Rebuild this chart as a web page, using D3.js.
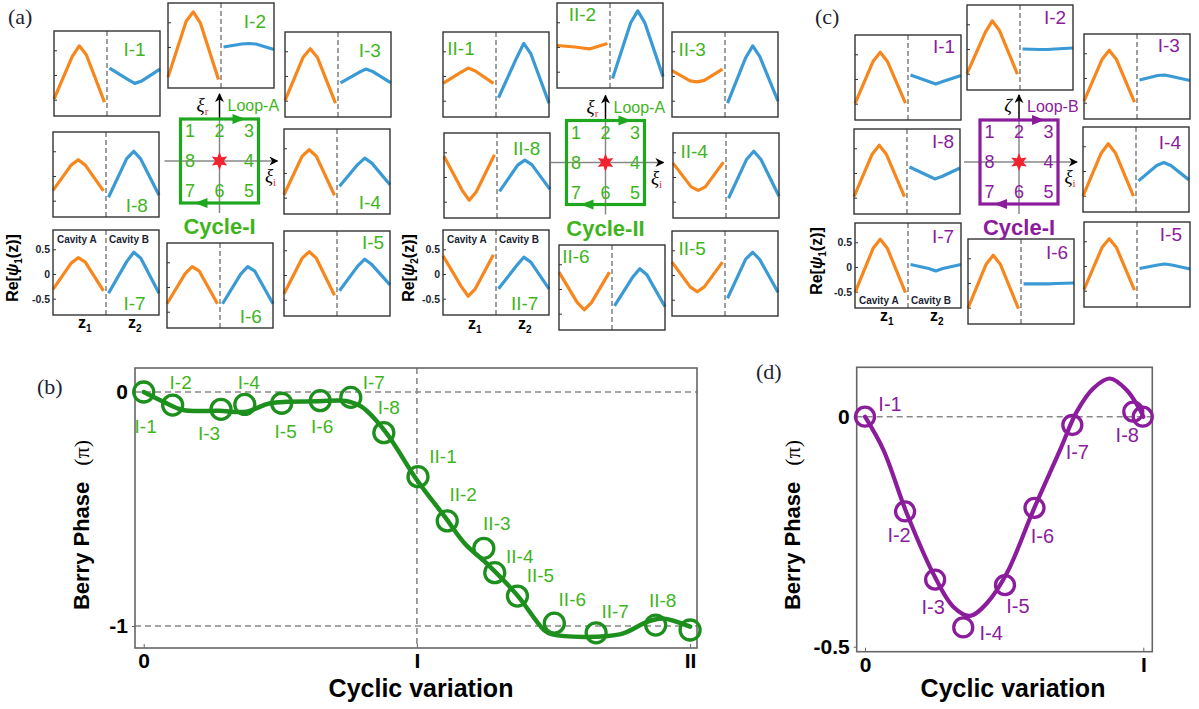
<!DOCTYPE html>
<html>
<head>
<meta charset="utf-8">
<script src="https://cdn.jsdelivr.net/npm/d3@7"></script>
<style>
body { margin: 0; background: #fff; }
svg { display: block; font-family: "Liberation Sans", Arial, sans-serif; }
</style>
</head>
<body>
<div id="fig"></div>
<script>
// ---------------- data ----------------
// sample positions along each cavity (z normalised 0..1)
var zNodes = [0, 0.36, 0.5, 0.64, 1];
var boxTicks = [-0.5, 0, 0.5];
var pointNames = [1, 2, 3, 4, 5, 6, 7, 8];

// Cycle-I, Loop-A : Re[psi1] in cavity A (orange) / cavity B (blue), points 1..8
var cycI_A = [
  [-0.49, 0.37, 0.59, 0.41, -0.55],
  [-0.61, 0.52, 0.71, 0.49, -0.66],
  [-0.50, 0.38, 0.55, 0.38, -0.55],
  [-0.44, 0.34, 0.47, 0.34, -0.45],
  [-0.38, 0.34, 0.47, 0.34, -0.41],
  [-0.34, 0.27, 0.41, 0.32, -0.34],
  [-0.31, 0.22, 0.33, 0.24, -0.34],
  [-0.29, 0.22, 0.33, 0.22, -0.30]
];
var cycI_B = [
  [0.14, -0.09, -0.17, -0.12, 0.12],
  [0.00, 0.06, 0.07, 0.06, -0.05],
  [-0.14, 0.07, 0.14, 0.09, -0.14],
  [-0.27, 0.17, 0.30, 0.20, -0.24],
  [-0.32, 0.18, 0.32, 0.21, -0.20],
  [-0.34, 0.26, 0.41, 0.32, -0.34],
  [-0.39, 0.25, 0.44, 0.32, -0.39],
  [-0.43, 0.35, 0.50, 0.34, -0.39]
];
// Cycle-II, Loop-A : Re[psi2]
var cycII_A = [
  [-0.15, 0.08, 0.16, 0.10, -0.15],
  [0.03, 0.00, -0.02, -0.04, 0.07],
  [0.11, -0.10, -0.12, -0.09, 0.14],
  [0.28, -0.20, -0.27, -0.20, 0.30],
  [0.26, -0.24, -0.34, -0.24, 0.26],
  [0.34, -0.27, -0.42, -0.28, 0.34],
  [0.37, -0.25, -0.45, -0.30, 0.39],
  [0.42, -0.27, -0.47, -0.30, 0.45]
];
var cycII_B = [
  [-0.44, 0.37, 0.66, 0.45, -0.55],
  [-0.64, 0.49, 0.73, 0.49, -0.60],
  [-0.55, 0.37, 0.61, 0.39, -0.51],
  [-0.43, 0.36, 0.52, 0.36, -0.39],
  [-0.47, 0.32, 0.46, 0.31, -0.35],
  [-0.34, 0.24, 0.41, 0.29, -0.36],
  [-0.30, 0.17, 0.34, 0.24, -0.30],
  [-0.29, 0.24, 0.34, 0.25, -0.25]
];
// Cycle-I, Loop-B : Re[psi1]
var loopB_A = [
  [-0.50, 0.36, 0.54, 0.36, -0.49],
  [-0.50, 0.33, 0.57, 0.38, -0.51],
  [-0.47, 0.38, 0.56, 0.38, -0.49],
  [-0.51, 0.36, 0.55, 0.37, -0.51],
  [-0.48, 0.38, 0.55, 0.38, -0.49],
  [-0.51, 0.38, 0.56, 0.38, -0.52],
  [-0.52, 0.38, 0.56, 0.38, -0.52],
  [-0.48, 0.38, 0.56, 0.38, -0.48]
];
var loopB_B = [
  [0.08, -0.05, -0.10, -0.05, 0.07],
  [0.00, -0.01, -0.01, 0.00, 0.02],
  [-0.04, 0.05, 0.06, 0.03, -0.05],
  [-0.20, 0.11, 0.17, 0.11, -0.18],
  [-0.05, 0.02, 0.04, 0.02, -0.06],
  [-0.02, -0.02, -0.02, -0.01, 0.00],
  [0.05, -0.03, -0.08, -0.03, 0.05],
  [0.12, -0.05, -0.12, -0.07, 0.10]
];

// (b) Berry phase along Cycle-I then Cycle-II (Loop-A)
var namesB = ["I-1","I-2","I-3","I-4","I-5","I-6","I-7","I-8",
              "II-1","II-2","II-3","II-4","II-5","II-6","II-7","II-8",""];
var phaseXB = [0, 0.106, 0.283, 0.370, 0.505, 0.646, 0.758, 0.879,
               1.004, 1.111, 1.245, 1.285, 1.368, 1.503, 1.656, 1.874, 2.0];
var phaseYB = [0, -0.056, -0.074, -0.053, -0.048, -0.037, -0.023, -0.174,
               -0.362, -0.551, -0.668, -0.772, -0.872, -0.988, -1.029, -0.996, -1.017];
var fitXB = [0, 0.071, 0.144, 0.275, 0.376, 0.463, 0.639, 0.739, 0.797, 0.885, 1.0,
             1.102, 1.175, 1.262, 1.367, 1.465, 1.495, 1.742, 1.843, 1.9, 2.0];
var fitYB = [0, -0.041, -0.077, -0.08, -0.084, -0.048, -0.04, -0.038, -0.063, -0.17, -0.376,
             -0.533, -0.647, -0.74, -0.868, -1.017, -1.036, -1.036, -0.982, -0.968, -1.003];
var ticksXB = ["0", "I", "II"];

// (d) Berry phase along Cycle-I (Loop-B)
var namesD = ["I-1","I-2","I-3","I-4","I-5","I-6","I-7","I-8",""];
var phaseXD = [0, 0.144, 0.252, 0.353, 0.503, 0.609, 0.745, 0.964, 0.998];
var phaseYD = [0, -0.206, -0.354, -0.458, -0.366, -0.198, -0.018, 0.011, 0];
var fitXD = [0, 0.066, 0.15, 0.245, 0.317, 0.377, 0.437, 0.509, 0.605, 0.701, 0.761,
             0.821, 0.88, 0.94, 0.988, 1.0];
var fitYD = [0, -0.072, -0.21, -0.341, -0.413, -0.433, -0.406, -0.341, -0.203, -0.072, 0.011,
             0.062, 0.083, 0.058, 0.015, 0];
var ticksXD = ["0", "I"];

// ---------------- layout ----------------
var w = 1199, h = 709;
var orange = "#f7861c", blue = "#3a9ad6", green = "#3fb51d", greenLine = "#1d8f1d",
    greenFrame = "#1fa81f", purple = "#8b1c9c", starRed = "#f2222e", ink = "#1b1f33";

var svg = d3.select("#fig").append("svg").attr("width", w).attr("height", h);

// marker for the small black axis arrows
svg.append("defs").append("marker")
   .attr("id", "blackArrow")
   .attr("viewBox", "0 0 10 10")
   .attr("refX", 9).attr("refY", 5)
   .attr("markerWidth", 9).attr("markerHeight", 9)
   .attr("markerUnits", "userSpaceOnUse")
   .attr("orient", "auto")
   .append("path").attr("d", "M0,0 L10,5 L0,10 L3,5 Z").attr("fill", "#000");

var bw = 106, bh = 85;
var xBox = d3.scaleLinear().domain([0, 2.1]).range([0, bw]);
var yBox = d3.scaleLinear().domain([-0.83, 0.89]).range([bh, 0]);
var wave = d3.line().x(function(d){ return xBox(d[0]); }).y(function(d){ return yBox(d[1]); });

var sets = [
  { A: cycI_A, B: cycI_B, prefix: "I-", color: green, frame: greenFrame,
    boxes: [[54,31],[168,3],[285,32],[284,129],[284,231],[167,243],[53,230],[53,132]],
    lab: [[0.76,0.22],[0.82,0.22],[0.80,0.22],[0.81,0.87],[0.84,0.14],[0.79,0.87],[0.77,0.87],[0.79,0.86]],
    cx: 219.5, cy: 161, loop: "Loop-A", cycle: "Cycle-I", vSym: "ξ", vSub: "r", vDx: -17,
    psiIdx: "1", titleX: 18, cavTop: true, zDy: 13 },
  { A: cycII_A, B: cycII_B, prefix: "II-", color: green, frame: greenFrame,
    boxes: [[443,32],[557,3],[672,32],[673,133],[672,231],[559,245],[443,230],[444,133]],
    lab: [[0.17,0.19],[0.24,0.14],[0.19,0.20],[0.20,0.22],[0.19,0.20],[0.16,0.14],[0.77,0.86],[0.78,0.18]],
    cx: 605.5, cy: 162.5, loop: "Loop-A", cycle: "Cycle-II", vSym: "ξ", vSub: "r", vDx: -13,
    psiIdx: "2", titleX: 414, cavTop: true, zDy: 14 },
  { A: loopB_A, B: loopB_B, prefix: "I-", color: purple, frame: purple,
    boxes: [[855,35],[967,5],[1084,34],[1083,127],[1084,222],[968,239],[855,223],[854,129]],
    lab: [[0.84,0.14],[0.83,0.15],[0.80,0.14],[0.82,0.18],[0.82,0.15],[0.84,0.16],[0.83,0.16],[0.84,0.15]],
    cx: 1019, cy: 162, loop: "Loop-B", cycle: "Cycle-I", vSym: "ζ", vSub: "", vDx: -11,
    psiIdx: "1", titleX: 822, cavTop: false, zDy: 13 }
];

sets.forEach(function(s) {
  pointNames.forEach(function(n, i) {
    var bx = s.boxes[i][0], by = s.boxes[i][1];
    var g = svg.append("g").attr("transform", "translate(" + bx + "," + by + ")");
    var withLabels = (n === 7);

    var ax = g.append("g")
      .call(d3.axisLeft(yBox).tickValues(boxTicks).tickSize(-3).tickPadding(3)
              .tickFormat(function(d){ return withLabels ? String(d) : ""; }));
    ax.select(".domain").remove();
    ax.selectAll("line").attr("stroke", "#333");
    ax.selectAll("text").attr("font-family", "Liberation Sans, Arial, sans-serif")
      .attr("font-size", 10.5).attr("font-weight", "bold").attr("fill", ink);

    g.append("line")
      .attr("x1", xBox(1.05)).attr("x2", xBox(1.05)).attr("y1", 0).attr("y2", bh)
      .attr("stroke", "#777").attr("stroke-width", 1.4).attr("stroke-dasharray", "5,3");

    g.append("path")
      .datum(zNodes.map(function(z, k){ return [z, s.A[i][k]]; }))
      .attr("d", wave).attr("fill", "none").attr("stroke", orange)
      .attr("stroke-width", 3.2).attr("stroke-linejoin", "round");
    g.append("path")
      .datum(zNodes.map(function(z, k){ return [z + 1.1, s.B[i][k]]; }))
      .attr("d", wave).attr("fill", "none").attr("stroke", blue)
      .attr("stroke-width", 3.2).attr("stroke-linejoin", "round");

    g.append("rect").attr("width", bw).attr("height", bh)
      .attr("fill", "none").attr("stroke", "#333").attr("stroke-width", 1.4);

    g.append("text")
      .attr("x", s.lab[i][0] * bw).attr("y", s.lab[i][1] * bh)
      .attr("text-anchor", "middle").attr("dominant-baseline", "central")
      .attr("font-size", 19).attr("fill", s.color)
      .text(s.prefix + n);

    if (withLabels) {
      var cy = s.cavTop ? 13 : bh - 4;
      g.append("text").attr("x", 4).attr("y", cy)
        .attr("font-size", 10).attr("font-weight", 600).attr("fill", ink).text("Cavity A");
      g.append("text").attr("x", xBox(1.05) + 3).attr("y", cy)
        .attr("font-size", 10).attr("font-weight", 600).attr("fill", ink).text("Cavity B");

      [["1", 25], ["2", 75]].forEach(function(zz) {
        var t = g.append("text").attr("x", zz[1]).attr("y", bh + s.zDy)
          .attr("font-size", 16).attr("font-weight", "bold").attr("fill", "#000");
        t.append("tspan").text("z");
        t.append("tspan").attr("font-size", 10).attr("dy", 4).text(zz[0]);
      });

      var yt = svg.append("text")
        .attr("transform", "translate(" + s.titleX + "," + (by + 38) + ") rotate(-90)")
        .attr("text-anchor", "middle").attr("font-size", 16).attr("font-weight", "bold").attr("fill", "#000");
      yt.append("tspan").text("Re[");
      yt.append("tspan").attr("font-style", "italic").text("ψ");
      yt.append("tspan").attr("font-size", 10).attr("dy", 4).text(s.psiIdx);
      yt.append("tspan").attr("dy", -4).text("(z)]");
    }
  });

  // centre diagram: parameter plane with the loop
  var cx = s.cx, cy = s.cy, hw = 39, hh = 42;
  var c = svg.append("g");
  c.append("line").attr("x1", cx - 55).attr("x2", cx + 58).attr("y1", cy).attr("y2", cy)
    .attr("stroke", "#888").attr("stroke-width", 1.5).attr("marker-end", "url(#blackArrow)");
  c.append("line").attr("x1", cx).attr("x2", cx).attr("y1", cy + 52).attr("y2", cy - hh)
    .attr("stroke", "#888").attr("stroke-width", 1.5);
  c.append("line").attr("x1", cx).attr("x2", cx).attr("y1", cy - hh).attr("y2", cy - 67)
    .attr("stroke", "#000").attr("stroke-width", 1.5).attr("marker-end", "url(#blackArrow)");
  c.append("rect").attr("x", cx - hw).attr("y", cy - hh).attr("width", 2 * hw).attr("height", 2 * hh)
    .attr("fill", "none").attr("stroke", s.frame).attr("stroke-width", 3.2);
  // direction arrows on the loop
  c.append("path")
    .attr("d", "M" + (cx + 26) + "," + (cy - hh) + " l-13,-5 l0,10 Z")
    .attr("fill", s.frame);
  c.append("path")
    .attr("d", "M" + (cx - 25) + "," + (cy + hh) + " l13,-5 l0,10 Z")
    .attr("fill", s.frame);
  // numbered corners / edges
  var grid = [[-1,-1],[0,-1],[1,-1],[1,0],[1,1],[0,1],[-1,1],[-1,0]];
  grid.forEach(function(p, k) {
    c.append("text").attr("x", cx + p[0] * 29.5).attr("y", cy + p[1] * 30)
      .attr("text-anchor", "middle").attr("dominant-baseline", "central")
      .attr("font-size", 18).attr("fill", s.color).text(pointNames[k]);
  });
  // exceptional point (star)
  var star = d3.range(12).map(function(k) {
    var a = (-90 + k * 30) * Math.PI / 180, r = k % 2 ? 4.2 : 9;
    return [cx + r * Math.cos(a), cy + r * Math.sin(a)];
  });
  c.append("path").attr("d", "M" + star.join("L") + "Z").attr("fill", starRed);

  c.append("text").attr("x", cx + 8).attr("y", cy - 50)
    .attr("font-size", 16).attr("fill", s.color).text(s.loop);
  var vt = c.append("text").attr("x", cx + s.vDx).attr("y", cy - 50).attr("text-anchor", "middle")
    .attr("font-family", "Liberation Serif, serif").attr("font-style", "italic")
    .attr("font-size", 19).attr("fill", "#000");
  vt.append("tspan").text(s.vSym);
  if (s.vSub) vt.append("tspan").attr("font-size", 11).attr("dy", 4).attr("fill", starRed)
    .attr("font-style", "normal").text(s.vSub);
  var ht = c.append("text").attr("x", cx + 51).attr("y", cy + 21).attr("text-anchor", "middle")
    .attr("font-family", "Liberation Serif, serif").attr("font-style", "italic")
    .attr("font-size", 19).attr("fill", "#000");
  ht.append("tspan").text("ξ");
  ht.append("tspan").attr("font-size", 11).attr("dy", 4).attr("fill", starRed)
    .attr("font-style", "normal").text("i");

  c.append("text").attr("x", cx).attr("y", cy + 73).attr("text-anchor", "middle")
    .attr("font-size", 22).attr("font-weight", "bold").attr("fill", s.color).text(s.cycle);
});

// panel letters
[["(a)", 8, 24], ["(b)", 37, 394], ["(c)", 815, 24], ["(d)", 756, 379]].forEach(function(p) {
  svg.append("text").attr("x", p[1]).attr("y", p[2])
    .attr("font-family", "Liberation Serif, serif").attr("font-size", 22).attr("fill", ink).text(p[0]);
});

// ---------------- Berry phase plots ----------------
function phasePlot(o) {
  var x = d3.scaleLinear().domain(o.xDom).range(o.xRange);
  var y = d3.scaleLinear().domain(o.yDom).range(o.yRange);
  var g = svg.append("g");
  var fl = o.frame; // [left, top, right, bottom]

  o.hDash.forEach(function(v) {
    g.append("line").attr("x1", fl[0]).attr("x2", fl[2]).attr("y1", y(v)).attr("y2", y(v))
      .attr("stroke", "#888").attr("stroke-width", 1.6).attr("stroke-dasharray", "6,4");
  });
  o.vDash.forEach(function(v) {
    g.append("line").attr("x1", x(v)).attr("x2", x(v)).attr("y1", fl[1]).attr("y2", fl[3])
      .attr("stroke", "#888").attr("stroke-width", 1.6).attr("stroke-dasharray", "6,4");
  });

  g.append("rect").attr("x", fl[0]).attr("y", fl[1])
    .attr("width", fl[2] - fl[0]).attr("height", fl[3] - fl[1])
    .attr("fill", "none").attr("stroke", "#666").attr("stroke-width", 1.6);

  var ya = g.append("g").attr("transform", "translate(" + fl[0] + ",0)")
    .call(d3.axisLeft(y).tickValues(o.yTicks).tickSize(3).tickPadding(4)
            .tickFormat(function(d){ return String(d); }));
  var xa = g.append("g").attr("transform", "translate(0," + fl[3] + ")")
    .call(d3.axisBottom(x).tickValues(d3.range(o.xTicks.length)).tickSize(-4).tickPadding(5)
            .tickFormat(function(d){ return o.xTicks[d]; }));
  [ya, xa].forEach(function(a) {
    a.select(".domain").remove();
    a.selectAll("line").attr("stroke", "#666");
    a.selectAll("text").attr("font-family", "Liberation Sans, Arial, sans-serif")
      .attr("font-size", 21).attr("font-weight", "bold").attr("fill", "#000");
  });

  var line = d3.line().curve(d3.curveCatmullRom.alpha(0.5))
    .x(function(d){ return x(d[0]); }).y(function(d){ return y(d[1]); });
  g.append("path").datum(o.fitX.map(function(v, i){ return [v, o.fitY[i]]; }))
    .attr("d", line).attr("fill", "none").attr("stroke", o.lineColor)
    .attr("stroke-width", o.lw).attr("stroke-linecap", "round");

  o.px.forEach(function(v, i) {
    g.append("circle").attr("cx", x(v)).attr("cy", y(o.py[i])).attr("r", o.r)
      .attr("fill", "none").attr("stroke", o.lineColor).attr("stroke-width", 3.3);
  });
  o.names.forEach(function(nm, i) {
    if (!nm) return;
    g.append("text").attr("x", x(o.px[i]) + o.lab[i][0]).attr("y", y(o.py[i]) + o.lab[i][1])
      .attr("text-anchor", "middle").attr("dominant-baseline", "central")
      .attr("font-size", o.labSize).attr("fill", o.textColor).text(nm);
  });

  g.append("text").attr("x", o.xTitle[0]).attr("y", o.xTitle[1]).attr("text-anchor", "middle")
    .attr("font-size", 25).attr("font-weight", "bold").text("Cyclic variation");
  var yt = g.append("text")
    .attr("transform", "translate(" + o.yTitle[0] + "," + o.yTitle[1] + ") rotate(-90)")
    .attr("text-anchor", "middle").attr("font-size", 22).attr("font-weight", "bold");
  yt.append("tspan").text("Berry Phase");
  yt.append("tspan").attr("dx", 16).attr("font-family", "Liberation Serif, serif")
    .attr("font-weight", "normal").text("(π)");
}

phasePlot({
  xDom: [0, 2], xRange: [143.7, 690.1], yDom: [-1, 0], yRange: [626, 392],
  frame: [135, 368, 697, 648], hDash: [0, -1], vDash: [1],
  yTicks: [0, -1], xTicks: ticksXB,
  fitX: fitXB, fitY: fitYB, px: phaseXB, py: phaseYB, names: namesB, r: 10, lw: 4.5, labSize: 19,
  lab: [[2,34],[8,-23],[-12,24],[4,-22],[4,28],[2,26],[23,-15],[5,-25],
        [25,-20],[16,-26],[13,-25],[25,-16],[23,-21],[18,-24],[19,-21],[7,-25],[0,0]],
  lineColor: greenLine, textColor: green,
  xTitle: [421, 697], yTitle: [89, 525]
});

phasePlot({
  xDom: [0, 1], xRange: [865, 1143.3], yDom: [-0.5, 0], yRange: [646.7, 416.7],
  frame: [856.7, 367.3, 1152.3, 651.7], hDash: [0], vDash: [],
  yTicks: [0, -0.5], xTicks: ticksXD,
  fitX: fitXD, fitY: fitYD, px: phaseXD, py: phaseYD, names: namesD, r: 9.5, lw: 4.2, labSize: 20,
  lab: [[25,-13],[-6,24],[-2,27],[28,6],[13,21],[8,28],[5,27],[-6,23],[0,0]],
  lineColor: purple, textColor: purple,
  xTitle: [1013, 697], yTitle: [800, 525]
});
</script>
</body>
</html>
